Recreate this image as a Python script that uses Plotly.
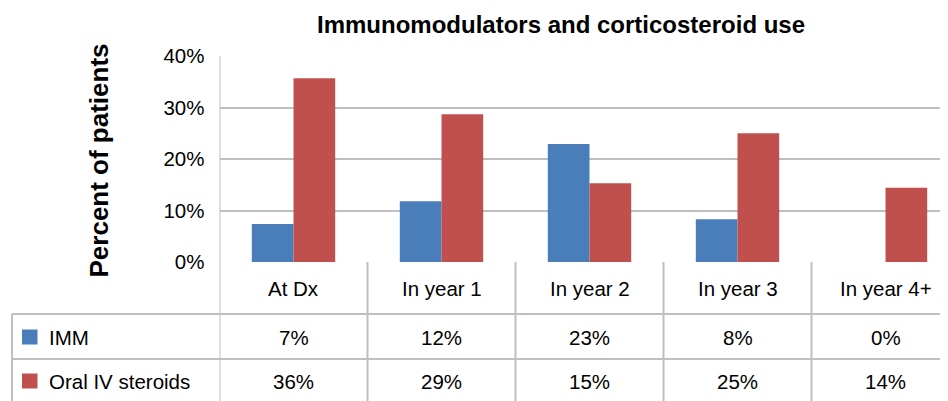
import plotly.graph_objects as go

# ---- data ----
categories = ["At Dx", "In year 1", "In year 2", "In year 3", "In year 4+"]
series_names = ["IMM", "Oral IV steroids"]
imm_values = [0.074, 0.118, 0.229, 0.083, 0.0]
steroid_values = [0.357, 0.287, 0.153, 0.250, 0.144]
y_tick_values = [0.0, 0.1, 0.2, 0.3, 0.4]
title_text = "Immunomodulators and corticosteroid use"
y_title_text = "Percent of patients"

# ---- style ----
PAGE_W, PAGE_H = 948, 401
OFF = 8  # default page body margin
W, H = PAGE_W - OFF, PAGE_H - OFF
BLUE = "#4A7EBB"
RED = "#C0504D"
GRID = "#BFBFC3"
FONT = "Arial, Liberation Sans, sans-serif"
TXT = 20.5


def px_x(p):
    return (p - OFF) / W


def px_y(p):
    return (H - (p - OFF)) / H


plot_left = 219.5
plot_top = 56
plot_bottom = 262
cat_w = 148.0
x_hi = -0.5 + (PAGE_W - plot_left) / cat_w

fig = go.Figure()
all_values = [imm_values, steroid_values]
colors = [BLUE, RED]
for name, vals, col in zip(series_names, all_values, colors):
    fig.add_trace(go.Bar(x=list(range(len(categories))), y=vals, name=name,
                         marker=dict(color=col, line=dict(width=0)),
                         showlegend=False, hoverinfo="skip"))

fig.update_layout(
    template="none",
    width=W, height=H,
    margin=dict(l=0, r=0, t=0, b=0, pad=0),
    paper_bgcolor="white", plot_bgcolor="white",
    barmode="group", bargap=0.4365, bargroupgap=0,
    font=dict(family=FONT, color="black", size=TXT),
    showlegend=False,
    xaxis=dict(domain=[px_x(plot_left), 1], range=[-0.5, x_hi],
               showticklabels=False, showgrid=False, zeroline=False,
               showline=False, fixedrange=True, automargin=False, ticks=""),
    yaxis=dict(domain=[px_y(plot_bottom), px_y(plot_top)], range=[0, 0.4],
               tickvals=y_tick_values, tickformat=".0%",
               showgrid=True, gridcolor=GRID, gridwidth=2,
               zeroline=False, showline=False, ticks="", automargin=False,
               ticklabelstandoff=14,
               tickfont=dict(size=TXT, family=FONT, color="black")),
)

# title
fig.add_annotation(text="<b>%s</b>" % title_text, xref="paper", yref="paper",
                   x=px_x(561), y=px_y(24), xanchor="center", yanchor="middle",
                   showarrow=False, font=dict(size=24, family=FONT, color="black"))
# y axis title
fig.add_annotation(text="<b>%s</b>" % y_title_text, xref="paper", yref="paper",
                   x=px_x(98), y=px_y(160.5), xanchor="center", yanchor="middle",
                   textangle=-90, showarrow=False,
                   font=dict(size=26, family=FONT, color="black"))

line = dict(color=GRID, width=2)
# vertical axis line through plot and table
fig.add_shape(type="line", xref="x", yref="paper", x0=-0.5, x1=-0.5,
              y0=0, y1=px_y(plot_top), line=line)
# vertical table separators
for i in range(1, len(categories)):
    fig.add_shape(type="line", xref="x", yref="paper", x0=i - 0.5, x1=i - 0.5,
                  y0=0, y1=px_y(plot_bottom), line=line)
# horizontal table lines
row1_top, row2_top = 314, 359
for yy in (row1_top, row2_top):
    fig.add_shape(type="line", xref="paper", yref="paper", x0=px_x(12), x1=1,
                  y0=px_y(yy), y1=px_y(yy), line=line)
# left table border
fig.add_shape(type="line", xref="paper", yref="paper", x0=px_x(12), x1=px_x(12),
              y0=0, y1=px_y(row1_top), line=line)

# header row (category names)
for i, c in enumerate(categories):
    fig.add_annotation(text=c, xref="x", yref="paper", x=i, y=px_y(288),
                       xanchor="center", yanchor="middle", showarrow=False,
                       font=dict(size=TXT, family=FONT, color="black"))

# data rows
row_centers = [337, 381]
for name, vals, col, yc in zip(series_names, all_values, colors, row_centers):
    fig.add_shape(type="rect", xref="paper", yref="paper",
                  x0=px_x(22), x1=px_x(37.5), y0=px_y(yc - 7.5), y1=px_y(yc + 7.5),
                  fillcolor=col, line=dict(width=0))
    fig.add_annotation(text=name, xref="paper", yref="paper", x=px_x(47),
                       y=px_y(yc), xanchor="left", yanchor="middle", showarrow=False,
                       font=dict(size=TXT, family=FONT, color="black"))
    for i, v in enumerate(vals):
        fig.add_annotation(text="%d%%" % round(v * 100), xref="x", yref="paper",
                           x=i, y=px_y(yc), xanchor="center", yanchor="middle",
                           showarrow=False,
                           font=dict(size=TXT, family=FONT, color="black"))

fig.write_html("out.html")
